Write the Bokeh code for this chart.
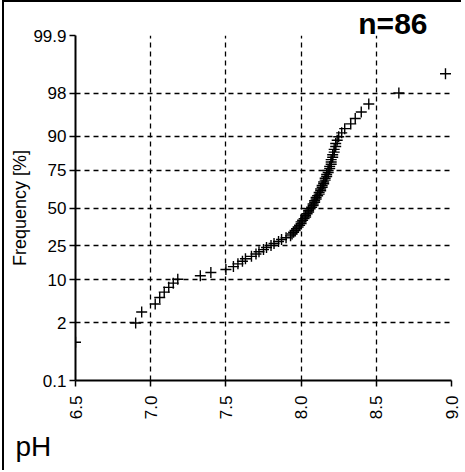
from statistics import NormalDist
from math import pi
from bokeh.plotting import figure
from bokeh.models import Range1d, FixedTicker, ColumnDataSource, Title
from bokeh.embed import file_html
from bokeh.resources import INLINE

# pH values (sorted), n = 86
ph = [6.50, 6.90, 6.94, 7.03, 7.06, 7.09, 7.12, 7.15, 7.18, 7.33,
      7.40, 7.50, 7.55, 7.58, 7.61, 7.63, 7.67, 7.70, 7.72, 7.75,
      7.77, 7.80, 7.82, 7.85, 7.87, 7.90, 7.93, 7.94, 7.95, 7.96,
      7.97, 7.98, 7.99, 8.00, 8.00, 8.01, 8.02, 8.03, 8.03, 8.04,
      8.05, 8.05, 8.06, 8.07, 8.08, 8.08, 8.09, 8.09, 8.10, 8.10,
      8.11, 8.12, 8.12, 8.13, 8.13, 8.14, 8.14, 8.15, 8.15, 8.16,
      8.16, 8.17, 8.17, 8.18, 8.18, 8.19, 8.19, 8.20, 8.20, 8.20,
      8.21, 8.21, 8.22, 8.22, 8.23, 8.23, 8.24, 8.25, 8.27, 8.29,
      8.33, 8.36, 8.40, 8.45, 8.65, 8.96]
freq_ticks = [0.1, 2, 10, 25, 50, 75, 90, 98, 99.9]
freq_labels = ["0.1", "2", "10", "25", "50", "75", "90", "98", "99.9"]
x_ticks = [6.5, 7.0, 7.5, 8.0, 8.5, 9.0]
x_labels = ["6.5", "7.0", "7.5", "8.0", "8.5", "9.0"]

nd = NormalDist()
n = len(ph)
# probability-scale (normal) positions from ranks
zvals = [nd.inv_cdf((i + 1 - 0.3) / (n + 0.4)) for i in range(n)]
zt = [nd.inv_cdf(f / 100.0) for f in freq_ticks]

FONT = "Liberation Sans"

p = figure(width=459, height=470, output_backend="svg", toolbar_location=None,
           x_range=Range1d(6.5, 9.0), y_range=Range1d(zt[0], zt[-1]),
           min_border_left=71, min_border_right=12, min_border_top=33,
           min_border_bottom=90, outline_line_color=None,
           background_fill_color="white", border_fill_color="white")
p.styles = {"margin-left": "2px", "margin-top": "0px",
            "border-left": "2px solid black", "border-top": "2px solid black"}

src = ColumnDataSource(dict(x=ph, y=zvals))
p.scatter("x", "y", source=src, marker="cross", size=11, line_width=1.4,
          line_color="black")

p.xaxis.ticker = FixedTicker(ticks=x_ticks)
p.xaxis.major_label_overrides = {t: l for t, l in zip(x_ticks, x_labels)}
p.xaxis.major_label_orientation = pi / 2
p.yaxis.ticker = FixedTicker(ticks=zt)
p.yaxis.major_label_overrides = {t: l for t, l in zip(zt, freq_labels)}
for ax in (p.xaxis, p.yaxis):
    ax.axis_line_width = 2
    ax.axis_line_color = "black"
    ax.major_tick_line_color = "black"
    ax.major_tick_line_width = 1.5
    ax.major_tick_in = 0
    ax.major_tick_out = 6
    ax.minor_tick_line_color = None
    ax.major_label_text_font = FONT
    ax.major_label_text_font_size = "17px"
    ax.major_label_text_color = "black"
p.yaxis.major_label_standoff = 3
p.xaxis.major_label_standoff = 9
p.yaxis.axis_label = "Frequency [%]"
p.yaxis.axis_label_text_font = FONT
p.yaxis.axis_label_text_font_size = "18px"
p.yaxis.axis_label_text_font_style = "normal"
p.yaxis.axis_label_text_color = "black"
p.yaxis.axis_label_standoff = 0

for g in (p.xgrid, p.ygrid):
    g.grid_line_color = "black"
    g.grid_line_dash = "5 4"
    g.grid_line_width = 1.3

p.add_layout(Title(text="n=86", align="right", offset=24, standoff=-9,
                   text_font=FONT, text_font_size="30px",
                   text_font_style="bold", text_color="black"), "above")
p.add_layout(Title(text="pH", align="left", offset=-60, standoff=17,
                   vertical_align="top", text_font=FONT,
                   text_font_size="28px", text_font_style="normal",
                   text_color="black"), "below")

open("out.html", "w").write(file_html(p, INLINE))
